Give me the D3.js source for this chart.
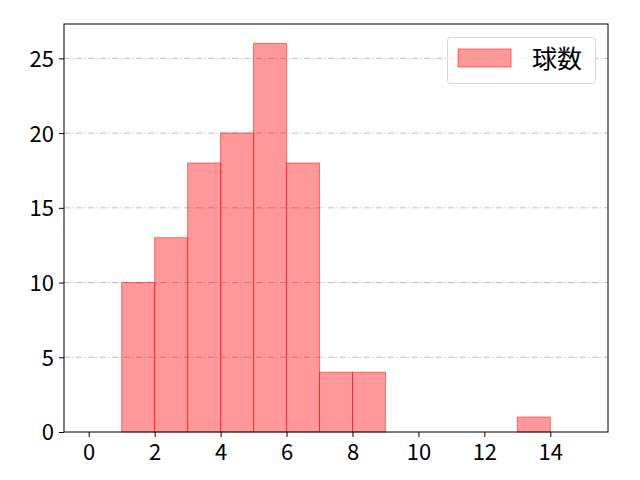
<!DOCTYPE html>
<html>
<head>
<meta charset="utf-8">
<script src="https://cdn.jsdelivr.net/npm/d3@7"></script>
<style>
  body { margin: 0; background: #fff; }
  text { font-family: "Noto Sans CJK JP", "DejaVu Sans", sans-serif; }
</style>
</head>
<body>
<svg width="640" height="480"></svg>
<script>
// histogram bins (left edge .. right edge) and counts
var binEdges = [0,1,2,3,4,5,6,7,8,9,10,11,12,13,14,15];
var counts = [0,10,13,18,20,26,18,4,4,0,0,0,0,1,0];
var xTicks = [0,2,4,6,8,10,12,14];
var yTicks = [0,5,10,15,20,25];
var seriesName = "球数";

var svgWidth = 640, svgHeight = 480;
var plotLeft = 64, plotRight = 608, plotTop = 24, plotBottom = 432;

var svg = d3.select("svg");

var xScale = d3.scaleLinear()
  .domain([-0.75, 15.75])
  .range([plotLeft, plotRight]);
var yScale = d3.scaleLinear()
  .domain([0, 27.3])
  .range([plotBottom, plotTop]);

var bins = counts.map(function(c, i){
  return {x0: binEdges[i], x1: binEdges[i+1], n: c};
});

// grid
svg.append("g")
  .selectAll("line")
  .data(yTicks.slice(1))
  .enter()
  .append("line")
  .attr("x1", plotLeft).attr("x2", plotRight)
  .attr("y1", function(d){ return yScale(d); })
  .attr("y2", function(d){ return yScale(d); })
  .attr("stroke", "#b0b0b0")
  .attr("stroke-width", 0.8)
  .attr("stroke-dasharray", "6.5,2,1,2.5");

// bars
svg.append("g")
  .selectAll("rect")
  .data(bins.filter(function(d){ return d.n > 0; }))
  .enter()
  .append("rect")
  .attr("x", function(d){ return xScale(d.x0); })
  .attr("width", function(d){ return xScale(d.x1) - xScale(d.x0); })
  .attr("y", function(d){ return yScale(d.n); })
  .attr("height", function(d){ return plotBottom - yScale(d.n); })
  .attr("fill", "rgba(255,0,0,0.4)")
  .attr("stroke", "rgba(255,0,0,0.5)")
  .attr("stroke-width", 1);

// axes
var xAxis = d3.axisBottom(xScale).tickValues(xTicks).tickSize(5).tickPadding(5);
var yAxis = d3.axisLeft(yScale).tickValues(yTicks).tickSize(5).tickPadding(5);

var gx = svg.append("g")
  .attr("transform", "translate(0," + plotBottom + ")")
  .call(xAxis);
var gy = svg.append("g")
  .attr("transform", "translate(" + plotLeft + ",0)")
  .call(yAxis);

[gx, gy].forEach(function(g){
  g.select(".domain").remove();
  g.selectAll("line").attr("stroke", "#000").attr("stroke-width", 1);
  g.selectAll("text").attr("fill", "#000").style("font-size", "22px");
});
gx.selectAll("text").attr("dy", "0.8em");
gy.selectAll("text").attr("dy", "0.36em");

// frame
svg.append("rect")
  .attr("x", plotLeft).attr("y", plotTop)
  .attr("width", plotRight - plotLeft).attr("height", plotBottom - plotTop)
  .attr("fill", "none")
  .attr("stroke", "#000")
  .attr("stroke-width", 1);

// legend
var legend = svg.append("g");
legend.append("rect")
  .attr("x", 447.5).attr("y", 37.5)
  .attr("width", 148).attr("height", 46)
  .attr("rx", 3)
  .attr("fill", "rgba(255,255,255,0.8)")
  .attr("stroke", "#d6d6d6");
legend.append("rect")
  .attr("x", 458).attr("y", 49)
  .attr("width", 53).attr("height", 18)
  .attr("fill", "rgba(255,0,0,0.4)")
  .attr("stroke", "rgba(255,0,0,0.5)");
legend.append("text")
  .attr("x", 532).attr("y", 59)
  .attr("dy", "0.36em")
  .style("font-size", "25px")
  .text(seriesName);
</script>
</body>
</html>
